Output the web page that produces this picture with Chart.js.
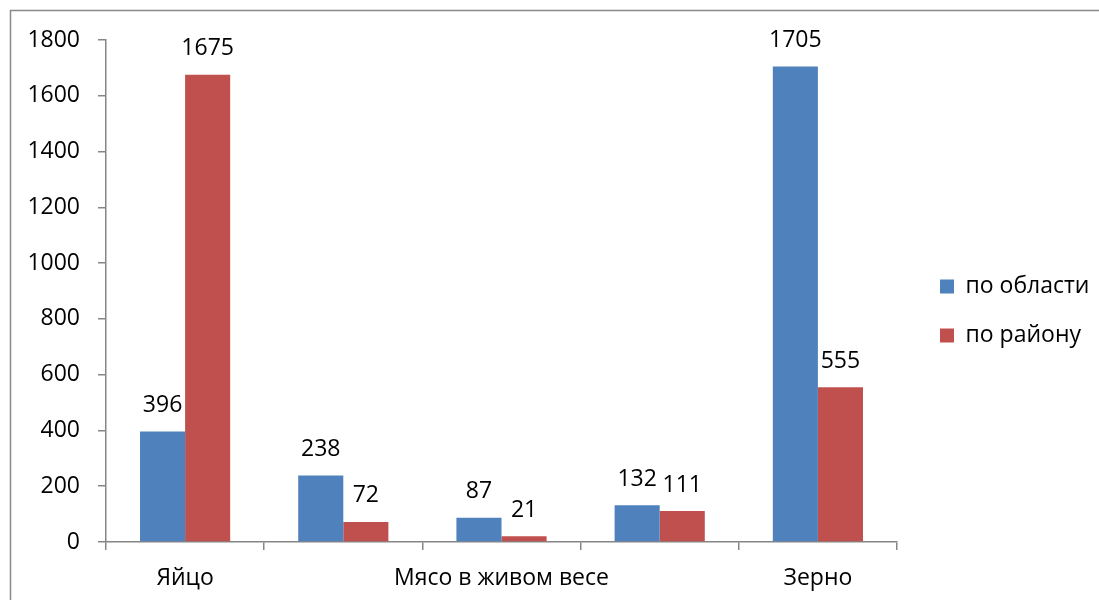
<!DOCTYPE html>
<html>
<head>
<meta charset="utf-8">
<script src="https://cdn.jsdelivr.net/npm/chart.js@4/dist/chart.umd.min.js"></script>
<style>
  html, body { margin: 0; padding: 0; background: #fff; }
  #wrap { width: 1099px; height: 600px; }
</style>
</head>
<body>
<div id="wrap"><canvas id="c" width="1099" height="600"></canvas></div>
<script>
const categories = ['Яйцо', '', 'Мясо в живом весе', '', 'Зерно'];
const seriesNames = ['по области', 'по району'];
const oblastValues = [396, 238, 87, 132, 1705];
const raionValues = [1675, 72, 21, 111, 555];
const yMin = 0, yMax = 1800, yStep = 200;

const FONT = "'Open Sans', 'Liberation Sans', sans-serif";
const FSIZE = 23;
const AXIS_GREY = '#868686';

const framePlugin = {
  id: 'frame',
  beforeDraw(chart) {
    const ctx = chart.ctx;
    ctx.save();
    ctx.fillStyle = '#fff';
    ctx.fillRect(0, 0, chart.width, chart.height);
    ctx.strokeStyle = '#898989';
    ctx.lineWidth = 1.5;
    ctx.strokeRect(10.5, 10.5, chart.width + 20, chart.height + 20);
    ctx.restore();
  }
};

const valueLabels = {
  id: 'valueLabels',
  afterDatasetsDraw(chart) {
    const ctx = chart.ctx;
    ctx.save();
    ctx.font = FSIZE + 'px ' + FONT;
    ctx.fillStyle = '#000';
    ctx.textAlign = 'center';
    ctx.textBaseline = 'middle';
    chart.data.datasets.forEach((ds, di) => {
      const meta = chart.getDatasetMeta(di);
      meta.data.forEach((bar, i) => {
        ctx.fillText(String(ds.data[i]), bar.x, bar.y - 26);
      });
    });
    ctx.restore();
  }
};

const legendShift = {
  id: 'legendShift',
  afterLayout(chart) {
    const lg = chart.legend;
    if (lg) {
      const w = lg.width;
      lg.left = chart.chartArea.right + 17;
      lg.right = lg.left + w;
      lg.top -= 9;
      lg.bottom -= 9;
    }
  }
};

const chart = new Chart(document.getElementById('c'), {
  type: 'bar',
  data: {
    labels: categories,
    datasets: [
      { label: seriesNames[0], data: oblastValues, backgroundColor: '#4F81BD', borderWidth: 0 },
      { label: seriesNames[1], data: raionValues, backgroundColor: '#C0504D', borderWidth: 0 }
    ]
  },
  options: {
    responsive: false,
    animation: false,
    devicePixelRatio: 1,
    layout: { padding: { top: 40, left: 0, right: 0, bottom: 0 } },
    plugins: {
      tooltip: { enabled: false },
      legend: {
        position: 'right',
        align: 'center',
        labels: {
          font: { family: FONT, size: FSIZE },
          color: '#000',
          boxWidth: 14,
          boxHeight: 14,
          padding: 26
        }
      }
    },
    datasets: { bar: { categoryPercentage: 0.57, barPercentage: 1.0 } },
    scales: {
      x: {
        offset: true,
        grid: { display: true, offset: true, drawOnChartArea: false, drawTicks: true, tickLength: 8, color: AXIS_GREY, lineWidth: 1.5 },
        border: { display: true, color: AXIS_GREY, width: 1.5 },
        ticks: { autoSkip: false, maxRotation: 0, color: '#000', font: { family: FONT, size: FSIZE }, padding: 15 },
        afterFit(s) { s.height = 58; }
      },
      y: {
        min: yMin, max: yMax,
        grid: { display: true, drawOnChartArea: false, drawTicks: true, tickLength: 8, color: AXIS_GREY, lineWidth: 1.5 },
        border: { display: true, color: AXIS_GREY, width: 1.5 },
        ticks: { stepSize: yStep, color: '#000', font: { family: FONT, size: FSIZE }, padding: 18, callback: v => String(v) },
        afterFit(s) { s.width = 106; }
      }
    }
  },
  plugins: [framePlugin, valueLabels, legendShift]
});

// Reserve a fixed-width legend column so the plot area ends where the reference's does
const origFit = chart.legend.fit;
chart.legend.fit = function () {
  origFit.call(this);
  this.width = 202;
};
chart.update();
</script>
</body>
</html>
